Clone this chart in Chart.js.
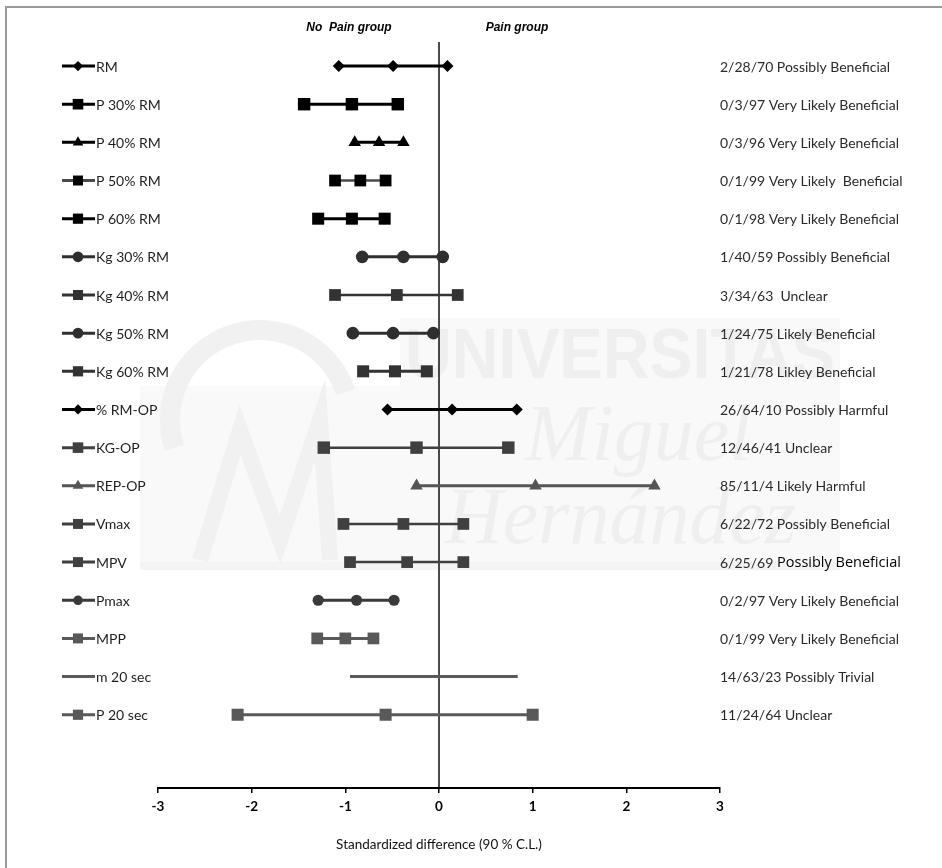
<!DOCTYPE html>
<html>
<head>
<meta charset="utf-8">
<script src="https://cdn.jsdelivr.net/npm/chart.js@4/dist/chart.umd.min.js"></script>
<style>
  html, body { margin: 0; padding: 0; background: #fff; }
  #wrap { position: relative; width: 942px; height: 868px; }
  #frame { position: absolute; left: 5px; top: 6px; width: 960px; height: 900px;
           border-left: 2px solid #9a9a9a; border-top: 2px solid #9a9a9a; pointer-events: none; }
</style>
</head>
<body>
<div id="wrap">
  <canvas id="forest" width="942" height="868"></canvas>
  <div id="frame"></div>
</div>
<script>
// Rows, top to bottom
const rowLabels = ['RM', 'P 30% RM', 'P 40% RM', 'P 50% RM', 'P 60% RM',
  'Kg 30% RM', 'Kg 40% RM', 'Kg 50% RM', 'Kg 60% RM', '% RM-OP', 'KG-OP',
  'REP-OP', 'Vmax', 'MPV', 'Pmax', 'MPP', 'm 20 sec', 'P 20 sec'];

// Standardized difference, 90% confidence limits
const lowerCL = [-1.07, -1.44, -0.90, -1.11, -1.29, -0.82, -1.11, -0.92, -0.81,
  -0.55, -1.23, -0.24, -1.02, -0.95, -1.29, -1.30, -0.95, -2.15];
const meanDiff = [-0.49, -0.93, -0.64, -0.84, -0.93, -0.38, -0.45, -0.49, -0.47,
  0.14, -0.24, 1.03, -0.38, -0.34, -0.88, -1.00, null, -0.57];
const upperCL = [0.09, -0.44, -0.38, -0.57, -0.58, 0.04, 0.20, -0.06, -0.13,
  0.83, 0.74, 2.30, 0.26, 0.26, -0.48, -0.70, 0.84, 1.00];

// Chances (harmful/trivial/beneficial) and inference
const rightLabels = ['2/28/70 Possibly Beneficial', '0/3/97 Very Likely Beneficial',
  '0/3/96 Very Likely Beneficial', '0/1/99 Very Likely  Beneficial',
  '0/1/98 Very Likely Beneficial', '1/40/59 Possibly Beneficial', '3/34/63  Unclear',
  '1/24/75 Likely Beneficial', '1/21/78 Likley Beneficial', '26/64/10 Possibly Harmful',
  '12/46/41 Unclear', '85/11/4 Likely Harmful', '6/22/72 Possibly Beneficial',
  '6/25/69 Possibly Beneficial', '0/2/97 Very Likely Beneficial',
  '0/1/99 Very Likely Beneficial', '14/63/23 Possibly Trivial', '11/24/64 Unclear'];

const xTicks = [-3, -2, -1, 0, 1, 2, 3];
const groupLabels = ['No  Pain group', 'Pain group'];
const axisTitle = 'Standardized difference (90 % C.L.)';

// Styling per row
const markers = ['rectRot', 'rect', 'triangle', 'rect', 'rect', 'circle', 'rect', 'circle', 'rect',
  'rectRot', 'rect', 'triangle', 'rect', 'rect', 'circle', 'rect', false, 'rect'];
const markerSize = [6, 8.8, 7.2, 8.3, 8.5, 6.3, 8.3, 6.3, 8.5, 6, 8.8, 7.2, 8.3, 8.3, 5.6, 8.3, 0, 8.5];
const markColor = ['#000', '#000', '#000', '#000', '#000', '#2f2f2f', '#333', '#2f2f2f', '#333',
  '#000', '#404040', '#555', '#404040', '#404040', '#3a3a3a', '#595959', '#595959', '#595959'];
const lineColor = ['#000', '#000', '#000', '#4a4a4a', '#000', '#2f2f2f', '#333', '#2f2f2f', '#333',
  '#000', '#404040', '#555', '#404040', '#404040', '#3a3a3a', '#595959', '#595959', '#595959'];
const lineWidth = [3, 3, 3, 2.5, 3, 3, 2.5, 3, 3, 3, 2.5, 3, 2.5, 2.5, 3, 3, 3, 3];

const yTop = -0.63, yBottom = 18.92;

const datasets = rowLabels.map((name, i) => ({
  label: name,
  data: [lowerCL[i], meanDiff[i], upperCL[i]]
    .filter(v => v !== null)
    .map(v => ({ x: v, y: i })),
  showLine: true,
  borderColor: lineColor[i],
  borderWidth: lineWidth[i],
  backgroundColor: markColor[i],
  pointBackgroundColor: markColor[i],
  pointBorderColor: markColor[i],
  pointBorderWidth: 0,
  pointStyle: markers[i] || 'circle',
  pointRadius: markers[i] ? markerSize[i] : 0,
  order: 1
}));

// zero reference line
datasets.push({
  label: 'zero',
  data: [{ x: 0, y: yTop }, { x: 0, y: yBottom }],
  showLine: true,
  borderColor: '#000',
  borderWidth: 1.4,
  pointRadius: 0,
  order: 2
});

// faint university logo behind the plot
const watermark = {
  id: 'watermark',
  beforeDatasetsDraw(chart) {
    const c = chart.ctx;
    c.save();
    c.fillStyle = '#f9f9f9';
    c.fillRect(400, 318, 440, 70);
    c.fillRect(140, 386, 700, 180);
    c.fillStyle = '#f4f4f4';
    c.fillRect(140, 562, 700, 8);
    c.fillStyle = '#efefef';
    c.textBaseline = 'alphabetic';
    c.font = 'bold 70px "Liberation Sans Narrow", "Liberation Sans"';
    const uw = c.measureText('UNIVERSITAS').width;
    c.save();
    c.translate(405, 378);
    c.scale(430 / uw, 1);
    c.fillText('UNIVERSITAS', 0, 0);
    c.restore();
    c.font = 'italic 80px "Liberation Serif"';
    c.fillText('Miguel', 525, 460);
    c.fillText('Hernández', 445, 543);
    c.strokeStyle = '#f1f1f1';
    c.lineWidth = 20;
    c.beginPath();
    c.arc(260, 420, 90, Math.PI * 0.9, Math.PI * 1.9);
    c.stroke();
    c.lineWidth = 16;
    c.beginPath();
    c.moveTo(200, 560); c.lineTo(240, 430); c.lineTo(280, 540); c.lineTo(320, 420); c.lineTo(330, 560);
    c.stroke();
    c.restore();
  }
};

const sideText = {
  id: 'sideText',
  afterDraw(chart) {
    const c = chart.ctx;
    const y = chart.scales.y;
    const { drawPoint } = Chart.helpers;
    c.save();
    c.textBaseline = 'middle';
    rowLabels.forEach((name, i) => {
      const py = y.getPixelForValue(i);
      // legend sample
      c.strokeStyle = lineColor[i];
      c.lineWidth = 3;
      c.beginPath();
      c.moveTo(62, py);
      c.lineTo(95, py);
      c.stroke();
      if (markers[i]) {
        c.fillStyle = markColor[i];
        c.strokeStyle = markColor[i];
        drawPoint(c, { pointStyle: markers[i], radius: markerSize[i] * 0.85, rotation: 0, borderWidth: 0 }, 78, py);
      }
      c.fillStyle = '#1e1e1e';
      c.font = '14px Lato';
      c.textAlign = 'left';
      c.fillText(name, 96, py + 1);
      // right-hand inference
      const txt = rightLabels[i];
      const cut = txt.indexOf(' ');
      const nums = txt.slice(0, cut);
      c.fillStyle = '#2a2a2a';
      c.fillText(nums, 720, py + 1);
      const w = c.measureText(nums).width;
      if (i === 13) {
        c.fillStyle = '#000';
        c.font = '14.5px "Open Sans"';
      }
      c.fillText(txt.slice(cut), 720 + w, py + 1);
    });
    c.fillStyle = '#000';
    c.font = 'italic bold 12px "Liberation Sans"';
    c.textAlign = 'center';
    c.fillText(groupLabels[0], 349, 28);
    c.fillText(groupLabels[1], 517, 28);
    c.restore();
  }
};

new Chart(document.getElementById('forest').getContext('2d'), {
  type: 'scatter',
  data: { datasets },
  options: {
    responsive: false,
    animation: false,
    layout: { padding: { left: 158, right: 222, top: 42, bottom: 0 } },
    plugins: { legend: { display: false }, tooltip: { enabled: false } },
    scales: {
      x: {
        type: 'linear',
        min: -3,
        max: 3,
        afterBuildTicks: s => { s.ticks = xTicks.map(v => ({ value: v })); },
        afterFit: s => { s.height = 80; },
        ticks: { color: '#000', padding: 6, font: { family: 'Lato', weight: 'bold', size: 13.5 } },
        grid: { drawOnChartArea: false, drawTicks: true, tickLength: 5, color: '#000', lineWidth: 1.5 },
        border: { color: '#000', width: 2 },
        title: {
          display: true,
          text: axisTitle,
          color: '#111',
          font: { family: 'Lato', size: 13.5 },
          padding: { top: 0, bottom: 15 }
        }
      },
      y: {
        type: 'linear',
        min: yTop,
        max: yBottom,
        reverse: true,
        display: false
      }
    }
  },
  plugins: [watermark, sideText]
});
</script>
</body>
</html>
